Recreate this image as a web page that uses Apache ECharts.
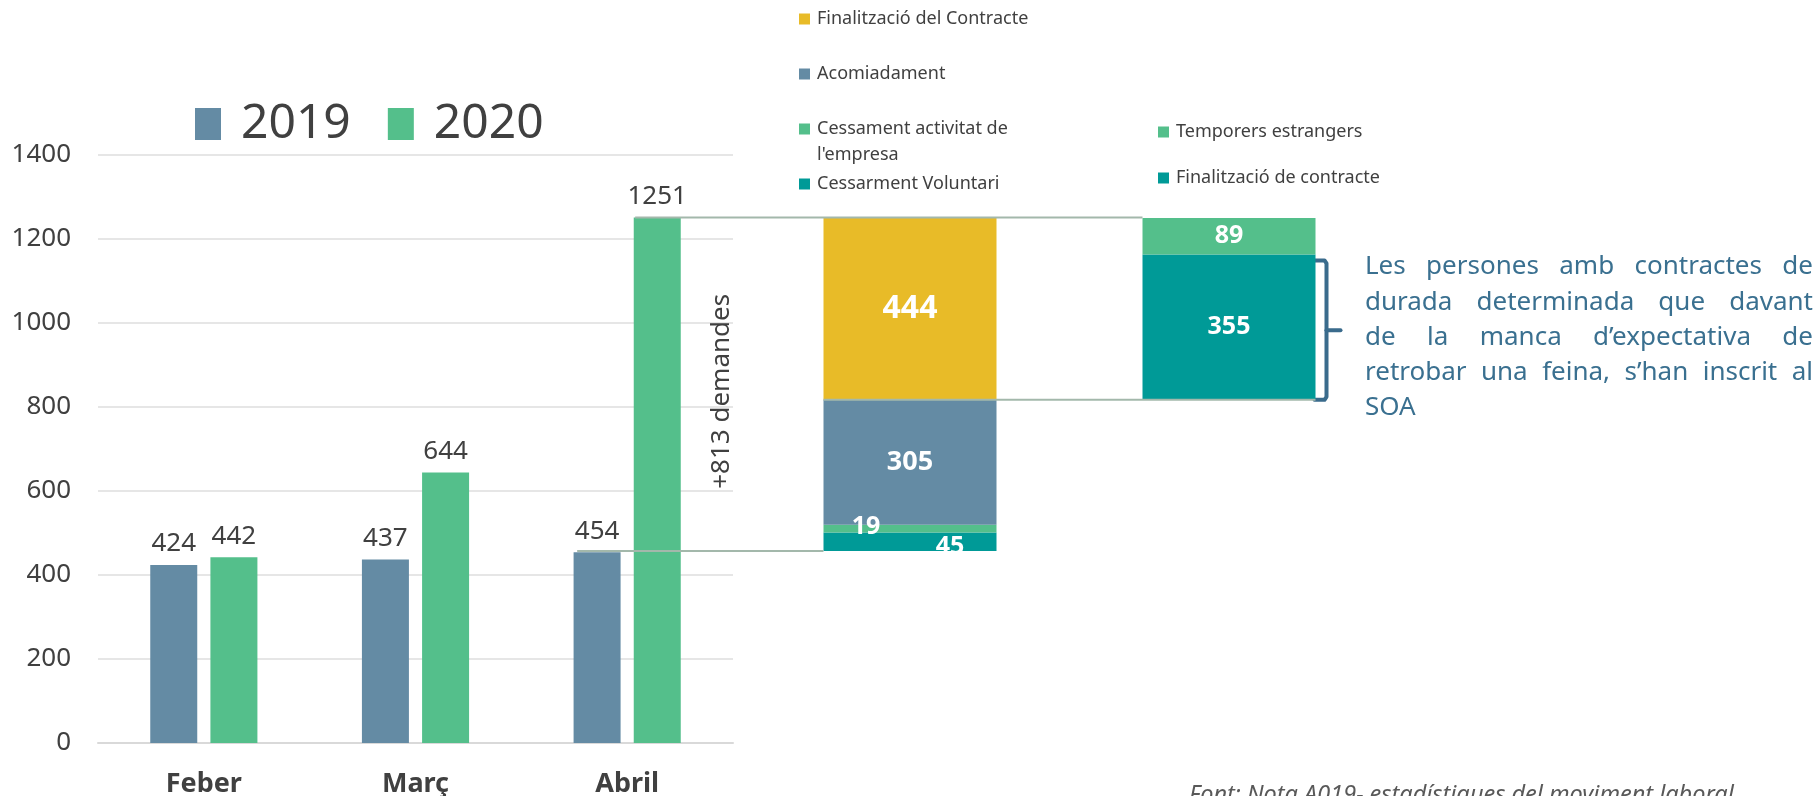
<!DOCTYPE html>
<html>
<head>
<meta charset="utf-8">
<script src="https://cdn.jsdelivr.net/npm/echarts@6/dist/echarts.min.js"></script>
<style>
html, body { margin: 0; padding: 0; background: #fff; }
#main { width: 1818px; height: 796px; }
</style>
</head>
<body>
<div id="main"></div>
<script>
// dades del gràfic de l'esquerra
const mesos = ['Feber', 'Març', 'Abril']
const demandes2019 = [424, 437, 454]
const demandes2020 = [442, 644, 1251]

// motius de l'increment (columna apilada)
const motius = ['Cessarment Voluntari', "Cessament activitat de l'empresa", 'Acomiadament', 'Finalització del Contracte']
const motiusValors = [45, 19, 305, 444]

// desglossament de la finalització del contracte
const desglos = ['Finalització de contracte', 'Temporers estrangers']
const desglosValors = [355, 89]

const notaLinies = [
    'Les persones amb contractes de',
    'durada determinada que davant',
    'de la manca d’expectativa de',
    'retrobar una feina, s’han inscrit al',
    'SOA'
]
const font = 'Font: Nota A019- estadístiques del moviment laboral'

const BLAU = '#648ba4'
const VERD = '#54bf8b'
const GROC = '#e8bb28'
const TEAL = '#009a97'
const TEXT = '#404040'

const total = motiusValors.reduce((a, b) => a + b, 0)
const base = total - motiusValors[3]

const motiuColors = [TEAL, VERD, BLAU, GROC]
const desglosColors = [TEAL, VERD]

var chart = echarts.init(document.getElementById('main'))

const legendItem = (name, left, top, extra) => Object.assign({
    data: [name],
    left: left,
    top: top,
    padding: 0,
    itemWidth: 11,
    itemHeight: 11,
    icon: 'rect',
    textStyle: { fontSize: 18, color: TEXT, padding: [0, 0, 0, 2] }
}, extra || {})

const labelInside = (size, offset) => ({
    show: true,
    position: 'inside',
    color: '#fff',
    fontWeight: 'bold',
    fontSize: size,
    offset: offset || [0, 0]
})

var stackSeries = [{
    name: 'base',
    type: 'bar',
    xAxisIndex: 1,
    yAxisIndex: 1,
    stack: 'demandes',
    barWidth: 173,
    data: [0, base],
    itemStyle: { color: 'transparent' },
    silent: true
}]
const motiuLabels = [labelInside(25, [40, 5]), labelInside(25, [-44, -2]), labelInside(27), labelInside(32)]
motius.forEach((m, i) => {
    stackSeries.push({
        name: m,
        type: 'bar',
        xAxisIndex: 1,
        yAxisIndex: 1,
        stack: 'demandes',
        barWidth: 173,
        data: [motiusValors[i], '-'],
        itemStyle: { color: motiuColors[i] },
        label: motiuLabels[i]
    })
})
desglos.forEach((d, i) => {
    stackSeries.push({
        name: d,
        type: 'bar',
        xAxisIndex: 1,
        yAxisIndex: 1,
        stack: 'demandes',
        barWidth: 173,
        data: ['-', desglosValors[i]],
        itemStyle: { color: desglosColors[i] },
        label: labelInside(25)
    })
})

var option = {
    animation: false,
    textStyle: { fontFamily: '"Noto Sans", sans-serif' },
    grid: [
        { left: 98, width: 635, top: 155, height: 588, outerBoundsMode: 'none' },
        { left: 750.5, width: 638, top: 218, height: 333, outerBoundsMode: 'none' }
    ],
    legend: [
        {
            data: ['2019', '2020'],
            left: 195,
            top: 100,
            padding: 0,
            itemWidth: 26,
            itemHeight: 32,
            itemGap: 37,
            icon: 'rect',
            textStyle: { fontSize: 48, color: TEXT, padding: [0, 0, 0, 15] }
        },
        legendItem(motius[3], 799, 10),
        legendItem(motius[2], 799, 65),
        legendItem(motius[1], 799, 120, {
            formatter: () => 'Cessament activitat de'
        }),
        legendItem(motius[0], 799, 175),
        legendItem(desglos[1], 1158, 123),
        legendItem(desglos[0], 1158, 169)
    ],
    xAxis: [
        {
            gridIndex: 0,
            type: 'category',
            data: mesos,
            axisLine: { lineStyle: { color: '#d9d9d9', width: 2 } },
            axisTick: { show: false },
            axisLabel: { fontSize: 27, fontWeight: 'bold', color: TEXT, margin: 28 }
        },
        { gridIndex: 1, type: 'category', data: ['Motius', 'Desglossament'], show: false }
    ],
    yAxis: [
        {
            gridIndex: 0,
            type: 'value',
            min: 0,
            max: 1400,
            interval: 200,
            axisLine: { show: false },
            axisTick: { show: false },
            axisLabel: { fontSize: 26, color: TEXT, margin: 27, formatter: v => String(v) },
            splitLine: { lineStyle: { color: '#e6e6e6', width: 2 } }
        },
        { gridIndex: 1, type: 'value', min: 0, max: total, show: false, splitLine: { show: false } }
    ],
    series: [
        {
            name: '2019',
            type: 'bar',
            data: demandes2019,
            barWidth: 47,
            barGap: '28%',
            itemStyle: { color: BLAU },
            label: { show: true, position: 'top', distance: 8, fontSize: 26, color: TEXT }
        },
        {
            name: '2020',
            type: 'bar',
            data: demandes2020,
            barWidth: 47,
            barGap: '28%',
            itemStyle: { color: VERD },
            label: { show: true, position: 'top', distance: 8, fontSize: 26, color: TEXT }
        }
    ].concat(stackSeries)
}
chart.setOption(option)

// línies de connexió, claudàtor i textos (a partir de les escales)
var last = mesos.length - 1
var pAbrilTop = chart.convertToPixel({ gridIndex: 0 }, [last, demandes2020[last]])
var pAbrilBase = chart.convertToPixel({ gridIndex: 0 }, [last, demandes2019[last]])
var pStack1 = chart.convertToPixel({ gridIndex: 1 }, [0, total])
var pStack2 = chart.convertToPixel({ gridIndex: 1 }, [1, base])
var pStack2Mid = chart.convertToPixel({ gridIndex: 1 }, [1, base + desglosValors[0]])
var pStack1Bot = chart.convertToPixel({ gridIndex: 1 }, [0, 0])

var half = 173 / 2
var lineStyle = { stroke: '#a3b8ab', lineWidth: 2 }
var graphics = [
    { type: 'line', shape: { x1: pAbrilTop[0] + 8, y1: pAbrilTop[1], x2: pStack2[0] - half, y2: pAbrilTop[1] }, style: lineStyle, z: 10 },
    { type: 'line', shape: { x1: pAbrilBase[0] - 50, y1: pStack1Bot[1], x2: pStack1[0] - half, y2: pStack1Bot[1] }, style: lineStyle, z: 10 },
    { type: 'line', shape: { x1: pStack1[0] - half, y1: pStack2[1], x2: pStack2[0] + half, y2: pStack2[1] }, style: lineStyle, z: 10 },
    // tapa la part inferior de l'etiqueta 45
    { type: 'rect', shape: { x: pStack1[0] + 10, y: pStack1Bot[1] + 1, width: 70, height: 24 }, style: { fill: '#fff' }, z: 20 },
    // segona línia de la llegenda "Cessament activitat de l'empresa"
    {
        type: 'text',
        left: 817,
        top: 146,
        style: { text: "l'empresa", fontSize: 18, fill: TEXT, fontFamily: '"Noto Sans"' }
    },
    {
        type: 'text',
        x: pAbrilTop[0] + 94,
        y: (pAbrilTop[1] + pStack1Bot[1]) / 2 + 7,
        rotation: Math.PI / 2,
        style: { text: '+813 demandes', fontSize: 26, fill: TEXT, align: 'center', verticalAlign: 'middle', fontFamily: '"Noto Sans"' }
    },
    {
        type: 'text',
        left: 1189,
        top: 784,
        style: { text: font, fontSize: 23.5, fontStyle: 'italic', fill: '#595959', fontFamily: '"Noto Sans"' }
    }
]

// claudàtor
var bx = pStack2[0] + half + 11
var bTop = pStack2Mid[1] + 6
var bBot = pStack2[1]
var bMid = (bTop + bBot) / 2
var bracketStyle = { stroke: '#3a6b8c', lineWidth: 4, fill: null, lineJoin: 'round', lineCap: 'round' }
graphics.push({
    type: 'polyline',
    shape: { points: [[bx - 12, bTop], [bx - 2, bTop], [bx, bTop + 3], [bx, bBot - 3], [bx - 2, bBot], [bx - 12, bBot]] },
    style: bracketStyle
})
graphics.push({ type: 'line', shape: { x1: bx, y1: bMid, x2: bx + 14, y2: bMid }, style: bracketStyle })

// text justificat
var ctx = document.createElement('canvas').getContext('2d')
var notaFont = '26px "Noto Sans"'
ctx.font = notaFont
var notaLeft = 1365, notaWidth = 448, notaTop = 267, notaLH = 35.2
notaLinies.forEach((linia, i) => {
    var words = linia.split(' ')
    var y = notaTop + i * notaLH
    var ws = words.map(w => ctx.measureText(w).width)
    var sum = ws.reduce((a, b) => a + b, 0)
    var gap = (i === notaLinies.length - 1 || words.length < 2) ? 0 : (notaWidth - sum) / (words.length - 1)
    var x = notaLeft
    words.forEach((w, j) => {
        graphics.push({
            type: 'text',
            x: x,
            y: y,
            style: { text: w, font: notaFont, fill: '#3a7090', verticalAlign: 'middle' }
        })
        x += ws[j] + gap
    })
})

chart.setOption({ graphic: graphics })
</script>
</body>
</html>
